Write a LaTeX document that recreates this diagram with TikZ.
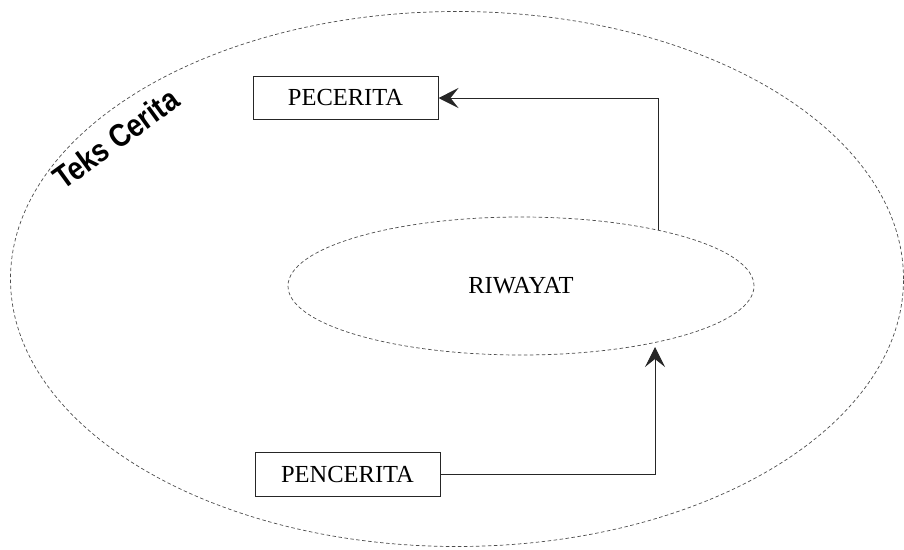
\documentclass[tikz,border=0pt]{standalone}
\usepackage{fontspec}
\setmainfont{Liberation Serif}
\newfontfamily\arialfont{Liberation Sans}
\usetikzlibrary{shapes.geometric,arrows.meta}
\begin{document}
\begin{tikzpicture}[x=1pt,y=-1pt,
  labelbox/.style={draw=black!85,line width=1pt,rectangle,minimum width=185pt,minimum height=43pt,inner sep=0pt,font=\fontsize{24.5}{27}\selectfont},
  dashell/.style={draw=black!70,ellipse,dashed,dash pattern=on 3.5pt off 2.5pt,line width=0.7pt,inner sep=0pt},
  conn/.style={draw=black!85,line width=1pt,-{Stealth[length=20pt,width=20pt,inset=8pt]}}]
\useasboundingbox (0,0) rectangle (904,549);
\node[dashell,minimum width=893pt,minimum height=535pt] (teks) at (457,279) {};
\node[dashell,minimum width=466pt,minimum height=138pt,font=\fontsize{24.5}{27}\selectfont] (riwayat) at (521,286) {RIWAYAT};
\node[labelbox] (pecerita) at (345.5,98) {PECERITA};
\node[labelbox,minimum height=44pt] (pencerita) at (347.5,474) {PENCERITA};
\node[anchor=base west,rotate=36,inner sep=0pt,font=\arialfont\bfseries\fontsize{32}{35}\selectfont] (label) at (63,191) {\scalebox{0.86}[1]{Teks Cerita}};
\coordinate (c1) at (658,230);
\coordinate (c2) at (655,347);
\draw[conn] (c1) |- (pecerita.east);
\draw[conn] (pencerita.east) -| (c2);
\end{tikzpicture}
\end{document}
